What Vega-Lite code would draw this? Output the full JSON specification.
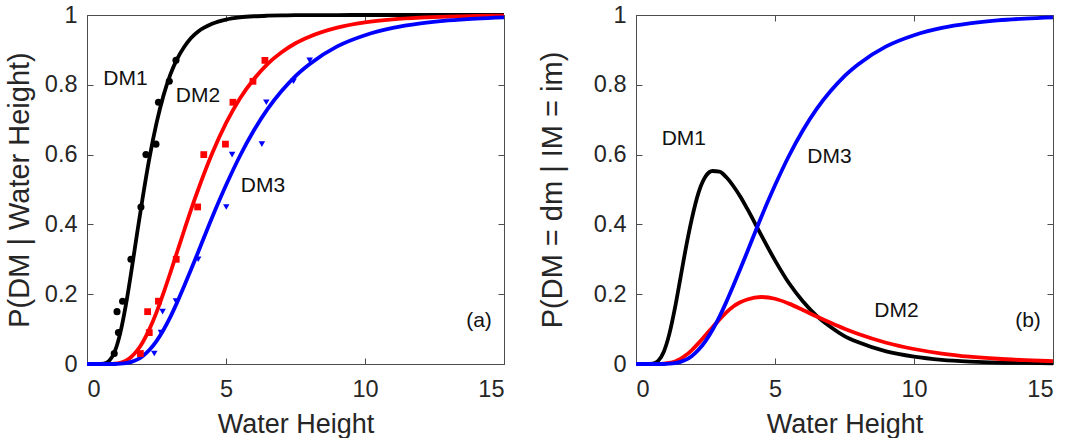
{
  "$schema": "https://vega.github.io/schema/vega-lite/v6.json",
  "background": "white",
  "padding": {"left": 5, "top": 3, "right": 5, "bottom": 0},
  "bounds": "flush",
  "spacing": 132,
  "config": {
    "font": "Liberation Sans",
    "view": {"stroke": null},
    "axis": {
      "grid": false,
      "domainColor": "#4d4d4d",
      "domainWidth": 1,
      "tickColor": "#4d4d4d",
      "tickSize": -6,
      "tickWidth": 1,
      "labelColor": "#262626",
      "titleColor": "#262626",
      "labelFont": "Liberation Sans",
      "titleFont": "Liberation Sans",
      "titleFontWeight": "normal",
      "labelFontSize": 23.5,
      "labelPadding": 16
    }
  },
  "datasets": {
    "curvesA": [
      {"x": 0, "DM1": 0, "DM2": 0, "DM3": 0},
      {"x": 0.4, "DM1": 0, "DM2": 0, "DM3": 0},
      {"x": 0.6, "DM1": 0.0011, "DM2": 0, "DM3": 0},
      {"x": 0.8, "DM1": 0.0094, "DM2": 0.0002, "DM3": 0},
      {"x": 1.0, "DM1": 0.0363, "DM2": 0.001, "DM3": 0},
      {"x": 1.2, "DM1": 0.09, "DM2": 0.0037, "DM3": 0.0008},
      {"x": 1.4, "DM1": 0.17, "DM2": 0.0098, "DM3": 0.0026},
      {"x": 1.6, "DM1": 0.268, "DM2": 0.0209, "DM3": 0.0062},
      {"x": 1.8, "DM1": 0.373, "DM2": 0.0381, "DM3": 0.0126},
      {"x": 2.0, "DM1": 0.475, "DM2": 0.0618, "DM3": 0.0225},
      {"x": 2.25, "DM1": 0.592, "DM2": 0.1006, "DM3": 0.0408},
      {"x": 2.5, "DM1": 0.69, "DM2": 0.148, "DM3": 0.0657},
      {"x": 2.75, "DM1": 0.769, "DM2": 0.203, "DM3": 0.0975},
      {"x": 3.0, "DM1": 0.83, "DM2": 0.262, "DM3": 0.135},
      {"x": 3.25, "DM1": 0.875, "DM2": 0.323, "DM3": 0.178},
      {"x": 3.5, "DM1": 0.909, "DM2": 0.384, "DM3": 0.224},
      {"x": 3.75, "DM1": 0.935, "DM2": 0.444, "DM3": 0.272},
      {"x": 4.0, "DM1": 0.953, "DM2": 0.5, "DM3": 0.321},
      {"x": 4.5, "DM1": 0.975, "DM2": 0.603, "DM3": 0.42},
      {"x": 5.0, "DM1": 0.987, "DM2": 0.69, "DM3": 0.512},
      {"x": 5.5, "DM1": 0.9932, "DM2": 0.761, "DM3": 0.596},
      {"x": 6.0, "DM1": 0.9964, "DM2": 0.816, "DM3": 0.669},
      {"x": 6.5, "DM1": 0.998, "DM2": 0.86, "DM3": 0.731},
      {"x": 7.0, "DM1": 0.9989, "DM2": 0.893, "DM3": 0.782},
      {"x": 7.5, "DM1": 0.9994, "DM2": 0.919, "DM3": 0.825},
      {"x": 8.0, "DM1": 0.9997, "DM2": 0.938, "DM3": 0.859},
      {"x": 9.0, "DM1": 0.9999, "DM2": 0.964, "DM3": 0.91},
      {"x": 10.0, "DM1": 1, "DM2": 0.979, "DM3": 0.942},
      {"x": 11.0, "DM1": 1, "DM2": 0.9877, "DM3": 0.963},
      {"x": 12.0, "DM1": 1, "DM2": 0.9927, "DM3": 0.976},
      {"x": 13.0, "DM1": 1, "DM2": 0.9956, "DM3": 0.9845},
      {"x": 14.0, "DM1": 1, "DM2": 0.9973, "DM3": 0.9898},
      {"x": 15.0, "DM1": 1, "DM2": 0.9984, "DM3": 0.9933}
    ],
    "curvesB": [
      {"x": 0, "DM1": 0, "DM2": 0, "DM3": 0},
      {"x": 0.4, "DM1": 0, "DM2": 0, "DM3": 0},
      {"x": 0.6, "DM1": 0.0011, "DM2": 0, "DM3": 0},
      {"x": 0.8, "DM1": 0.0092, "DM2": 0.0002, "DM3": 0},
      {"x": 1.0, "DM1": 0.0353, "DM2": 0.001, "DM3": 0},
      {"x": 1.2, "DM1": 0.0863, "DM2": 0.0029, "DM3": 0.0008},
      {"x": 1.4, "DM1": 0.16, "DM2": 0.0072, "DM3": 0.0026},
      {"x": 1.6, "DM1": 0.247, "DM2": 0.0147, "DM3": 0.0062},
      {"x": 1.8, "DM1": 0.335, "DM2": 0.0255, "DM3": 0.0126},
      {"x": 2.0, "DM1": 0.413, "DM2": 0.0393, "DM3": 0.0225},
      {"x": 2.25, "DM1": 0.491, "DM2": 0.0598, "DM3": 0.0408},
      {"x": 2.5, "DM1": 0.537, "DM2": 0.0823, "DM3": 0.0657},
      {"x": 2.75, "DM1": 0.553, "DM2": 0.1055, "DM3": 0.0975},
      {"x": 3.0, "DM1": 0.551, "DM2": 0.127, "DM3": 0.135},
      {"x": 3.25, "DM1": 0.535, "DM2": 0.148, "DM3": 0.178},
      {"x": 3.5, "DM1": 0.51, "DM2": 0.165, "DM3": 0.224},
      {"x": 3.75, "DM1": 0.48, "DM2": 0.177, "DM3": 0.272},
      {"x": 4.0, "DM1": 0.445, "DM2": 0.185, "DM3": 0.321},
      {"x": 4.5, "DM1": 0.37, "DM2": 0.192, "DM3": 0.42},
      {"x": 5.0, "DM1": 0.297, "DM2": 0.187, "DM3": 0.512},
      {"x": 5.5, "DM1": 0.232, "DM2": 0.173, "DM3": 0.596},
      {"x": 6.0, "DM1": 0.18, "DM2": 0.155, "DM3": 0.669},
      {"x": 6.5, "DM1": 0.138, "DM2": 0.136, "DM3": 0.731},
      {"x": 7.0, "DM1": 0.106, "DM2": 0.118, "DM3": 0.782},
      {"x": 7.5, "DM1": 0.08, "DM2": 0.101, "DM3": 0.825},
      {"x": 8.0, "DM1": 0.062, "DM2": 0.086, "DM3": 0.859},
      {"x": 9.0, "DM1": 0.036, "DM2": 0.061, "DM3": 0.91},
      {"x": 10.0, "DM1": 0.021, "DM2": 0.043, "DM3": 0.942},
      {"x": 11.0, "DM1": 0.012, "DM2": 0.03, "DM3": 0.963},
      {"x": 12.0, "DM1": 0.007, "DM2": 0.021, "DM3": 0.976},
      {"x": 13.0, "DM1": 0.004, "DM2": 0.015, "DM3": 0.9845},
      {"x": 14.0, "DM1": 0.003, "DM2": 0.011, "DM3": 0.9898},
      {"x": 15.0, "DM1": 0.002, "DM2": 0.008, "DM3": 0.9933}
    ],
    "points": [
      {"dm": "DM1", "x": 0.98, "y": 0.03},
      {"dm": "DM1", "x": 1.13, "y": 0.09},
      {"dm": "DM1", "x": 1.08, "y": 0.15},
      {"dm": "DM1", "x": 1.28, "y": 0.18},
      {"dm": "DM1", "x": 1.58, "y": 0.30},
      {"dm": "DM1", "x": 1.94, "y": 0.45},
      {"dm": "DM1", "x": 2.12, "y": 0.60},
      {"dm": "DM1", "x": 2.48, "y": 0.63},
      {"dm": "DM1", "x": 2.57, "y": 0.75},
      {"dm": "DM1", "x": 2.96, "y": 0.81},
      {"dm": "DM1", "x": 3.20, "y": 0.87},
      {"dm": "DM2", "x": 1.92, "y": 0.03},
      {"dm": "DM2", "x": 2.24, "y": 0.09},
      {"dm": "DM2", "x": 2.18, "y": 0.15},
      {"dm": "DM2", "x": 2.57, "y": 0.18},
      {"dm": "DM2", "x": 3.21, "y": 0.30},
      {"dm": "DM2", "x": 3.98, "y": 0.45},
      {"dm": "DM2", "x": 4.20, "y": 0.60},
      {"dm": "DM2", "x": 4.98, "y": 0.63},
      {"dm": "DM2", "x": 5.25, "y": 0.75},
      {"dm": "DM2", "x": 5.97, "y": 0.81},
      {"dm": "DM2", "x": 6.40, "y": 0.87},
      {"dm": "DM3", "x": 2.42, "y": 0.03},
      {"dm": "DM3", "x": 2.66, "y": 0.09},
      {"dm": "DM3", "x": 2.72, "y": 0.15},
      {"dm": "DM3", "x": 3.20, "y": 0.18},
      {"dm": "DM3", "x": 4.00, "y": 0.30},
      {"dm": "DM3", "x": 5.01, "y": 0.45},
      {"dm": "DM3", "x": 5.22, "y": 0.60},
      {"dm": "DM3", "x": 6.29, "y": 0.63},
      {"dm": "DM3", "x": 6.45, "y": 0.75},
      {"dm": "DM3", "x": 7.43, "y": 0.81},
      {"dm": "DM3", "x": 8.01, "y": 0.87}
    ],
    "labelsA": [
      {"text": "DM1", "x": 1.385, "y": 0.817},
      {"text": "DM2", "x": 3.99, "y": 0.767},
      {"text": "DM3", "x": 6.33, "y": 0.509},
      {"text": "(a)", "x": 14.1, "y": 0.122}
    ],
    "labelsB": [
      {"text": "DM1", "x": 1.72, "y": 0.645},
      {"text": "DM3", "x": 6.96, "y": 0.592},
      {"text": "DM2", "x": 9.37, "y": 0.152},
      {"text": "(b)", "x": 14.1, "y": 0.122}
    ]
  },
  "hconcat": [
    {
      "width": 417,
      "height": 349,
      "layer": [
        {
          "data": {"name": "curvesA"},
          "transform": [{"fold": ["DM1", "DM2", "DM3"], "as": ["dm", "p"]}],
          "mark": {"type": "line", "strokeWidth": 3.8, "interpolate": "monotone"},
          "encoding": {
            "x": {"field": "x", "type": "quantitative", "scale": {"domain": [0, 15], "nice": false},
                  "axis": {"orient": "bottom", "values": [0, 5, 10, 15], "format": "~g", "title": "Water Height", "titleFontSize": 27, "titlePadding": 11, "labelPadding": 19}},
            "y": {"field": "p", "type": "quantitative", "scale": {"domain": [0, 1], "nice": false},
                  "axis": {"orient": "left", "values": [0, 0.2, 0.4, 0.6, 0.8, 1], "format": "~g", "title": "P(DM | Water Height)", "titleFontSize": 29, "titlePadding": 10}},
            "color": {"field": "dm", "type": "nominal", "scale": {"domain": ["DM1", "DM2", "DM3"], "range": ["#000000", "#ff0000", "#0000ff"]}, "legend": null}
          }
        },
        {
          "data": {"name": "points"},
          "mark": {"type": "point", "filled": true, "opacity": 1},
          "encoding": {
            "x": {"field": "x", "type": "quantitative", "axis": null},
            "y": {"field": "y", "type": "quantitative", "axis": null},
            "color": {"field": "dm", "type": "nominal", "legend": null},
            "shape": {"field": "dm", "type": "nominal", "scale": {"domain": ["DM1", "DM2", "DM3"], "range": ["circle", "square", "triangle-down"]}, "legend": null},
            "size": {"field": "dm", "type": "nominal", "scale": {"domain": ["DM1", "DM2", "DM3"], "range": [50, 42, 85]}, "legend": null}
          }
        },
        {
          "data": {"name": "labelsA"},
          "mark": {"type": "text", "fontSize": 21, "color": "#111111", "align": "center", "baseline": "middle"},
          "encoding": {
            "x": {"field": "x", "type": "quantitative", "axis": null},
            "y": {"field": "y", "type": "quantitative", "axis": null},
            "text": {"field": "text", "type": "nominal"}
          }
        },
        {
          "data": {"name": "labelsA"},
          "mark": {"type": "point", "opacity": 0},
          "encoding": {
            "x": {"field": "x", "type": "quantitative", "axis": {"orient": "top", "values": [0, 5, 10, 15], "labels": false, "title": null}},
            "y": {"field": "y", "type": "quantitative", "axis": {"orient": "right", "values": [0, 0.2, 0.4, 0.6, 0.8, 1], "labels": false, "title": null}}
          }
        }
      ],
      "resolve": {"axis": {"x": "independent", "y": "independent"}}
    },
    {
      "width": 417,
      "height": 349,
      "layer": [
        {
          "data": {"name": "curvesB"},
          "transform": [{"fold": ["DM1", "DM2", "DM3"], "as": ["dm", "p"]}],
          "mark": {"type": "line", "strokeWidth": 3.8, "interpolate": "monotone"},
          "encoding": {
            "x": {"field": "x", "type": "quantitative", "scale": {"domain": [0, 15], "nice": false},
                  "axis": {"orient": "bottom", "values": [0, 5, 10, 15], "format": "~g", "title": "Water Height", "titleFontSize": 27, "titlePadding": 11, "labelPadding": 19}},
            "y": {"field": "p", "type": "quantitative", "scale": {"domain": [0, 1], "nice": false},
                  "axis": {"orient": "left", "values": [0, 0.2, 0.4, 0.6, 0.8, 1], "format": "~g", "title": "P(DM = dm | IM = im)", "titleFontSize": 29, "titlePadding": 26}},
            "color": {"field": "dm", "type": "nominal", "scale": {"domain": ["DM1", "DM2", "DM3"], "range": ["#000000", "#ff0000", "#0000ff"]}, "legend": null}
          }
        },
        {
          "data": {"name": "labelsB"},
          "mark": {"type": "text", "fontSize": 21, "color": "#111111", "align": "center", "baseline": "middle"},
          "encoding": {
            "x": {"field": "x", "type": "quantitative", "axis": null},
            "y": {"field": "y", "type": "quantitative", "axis": null},
            "text": {"field": "text", "type": "nominal"}
          }
        },
        {
          "data": {"name": "labelsB"},
          "mark": {"type": "point", "opacity": 0},
          "encoding": {
            "x": {"field": "x", "type": "quantitative", "axis": {"orient": "top", "values": [0, 5, 10, 15], "labels": false, "title": null}},
            "y": {"field": "y", "type": "quantitative", "axis": {"orient": "right", "values": [0, 0.2, 0.4, 0.6, 0.8, 1], "labels": false, "title": null}}
          }
        }
      ],
      "resolve": {"axis": {"x": "independent", "y": "independent"}}
    }
  ]
}
